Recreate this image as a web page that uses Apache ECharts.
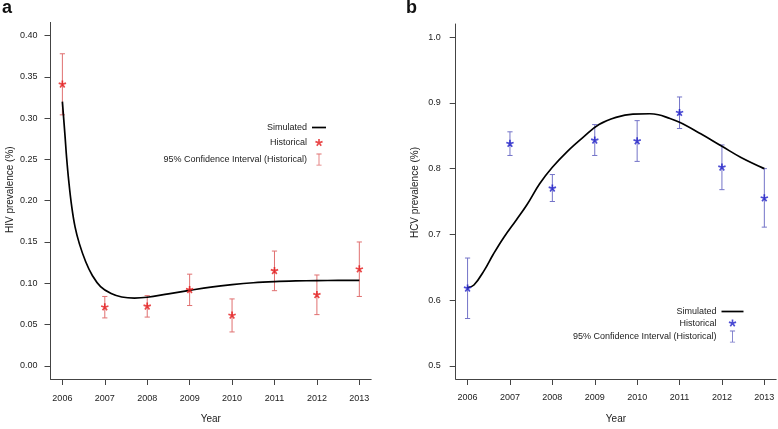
<!DOCTYPE html>
<html><head><meta charset="utf-8">
<script src="https://cdn.jsdelivr.net/npm/echarts@6/dist/echarts.min.js"></script>
<style>html,body{margin:0;padding:0;background:#fff}#c{width:778px;height:429px}</style>
</head><body><div id="c"></div>
<script>
// ---- data ----
const years = [2006, 2007, 2008, 2009, 2010, 2011, 2012, 2013];
const xTickLabels = [2006, 2007, 2008, 2009, 2010, 2011, 2012, 2013];
const hivTicks = [0, 0.05, 0.10, 0.15, 0.20, 0.25, 0.30, 0.35, 0.40];
const hcvTicks = [0.5, 0.6, 0.7, 0.8, 0.9, 1.0];

const hivHist = [0.341, 0.071, 0.072, 0.092, 0.061, 0.115, 0.086, 0.117];
const hivLow  = [0.304, 0.058, 0.059, 0.073, 0.041, 0.091, 0.062, 0.084];
const hivHigh = [0.378, 0.084, 0.085, 0.111, 0.081, 0.139, 0.110, 0.150];

const hivSimYears = [2006.00, 2006.06, 2006.10, 2006.15, 2006.22, 2006.30, 2006.40, 2006.55, 2006.70, 2006.90, 2007.15, 2007.40, 2007.70, 2008.00, 2008.50, 2009.00, 2009.50, 2010.00, 2010.50, 2011.00, 2011.50, 2012.00, 2012.50, 2013.00];
const hivSimVals  = [0.320, 0.280, 0.252, 0.224, 0.193, 0.168, 0.148, 0.126, 0.110, 0.096, 0.0875, 0.0833, 0.0820, 0.0830, 0.0872, 0.0914, 0.0953, 0.0983, 0.1006, 0.1020, 0.1028, 0.1032, 0.1034, 0.1034];

const hcvHist = [0.618, 0.838, 0.770, 0.843, 0.842, 0.885, 0.802, 0.755];
const hcvLow  = [0.572, 0.820, 0.750, 0.820, 0.811, 0.861, 0.768, 0.711];
const hcvHigh = [0.664, 0.856, 0.791, 0.867, 0.873, 0.909, 0.836, 0.800];

const hcvSimYears = [2006.00, 2006.15, 2006.40, 2006.60, 2006.85, 2007.15, 2007.40, 2007.70, 2008.00, 2008.35, 2008.75, 2009.10, 2009.50, 2009.90, 2010.30, 2010.50, 2010.70, 2011.00, 2011.50, 2012.00, 2012.45, 2013.00];
const hcvSimVals  = [0.619, 0.623, 0.646, 0.669, 0.695, 0.722, 0.745, 0.777, 0.802, 0.826, 0.849, 0.867, 0.878, 0.883, 0.8835, 0.882, 0.878, 0.8705, 0.853, 0.834, 0.817, 0.800];

const legendNames = ['Simulated', 'Historical', '95% Confidence Interval (Historical)'];

// ---- styling helpers ----
const FONT = '"Liberation Sans", Arial, Helvetica, sans-serif';
const AXIS = '#444';
const TXT = '#222';
const RED = '#e41a1c', RED_CI = '#e07070';
const BLUE = '#1f1fc8', BLUE_CI = '#7474c8';

function asteriskPath(c) {
  const R = 10, w = 2.2;
  let d = '';
  for (let i = 0; i < 5; i++) {
    const a = (i * 72 - 90) * Math.PI / 180;
    const dx = Math.cos(a), dy = Math.sin(a), px = -dy, py = dx;
    const pts = [[px * w, py * w], [dx * R + px * w, dy * R + py * w], [dx * R - px * w, dy * R - py * w], [-px * w, -py * w]];
    d += 'M' + pts.map(p => (p[0] + c).toFixed(2) + ',' + (p[1] + c).toFixed(2)).join('L') + 'Z';
  }
  const e = 2 * c;
  d += 'M' + c + ',0L' + c + ',0ZM' + c + ',' + e + 'L' + c + ',' + e + 'ZM0,' + c + 'L0,' + c + 'ZM' + e + ',' + c + 'L' + e + ',' + c + 'Z';
  return 'path://' + d;
}
const STAR = asteriskPath(13);
const STAR_LEGEND = asteriskPath(16);
const IBEAM = 'path://M0,0H6V1H3.5V13H6V14H0V13H2.5V1H0Z';

function errorSeries(name, xi, lows, highs, color) {
  return {
    type: 'custom', name: name, xAxisIndex: xi, yAxisIndex: xi,
    data: years.map((y, i) => [y, lows[i], highs[i]]),
    encode: { x: 0, y: [1, 2] },
    itemStyle: { color: color },
    z: 2,
    renderItem: function (params, api) {
      const x = api.value(0);
      const lo = api.coord([x, api.value(1)]);
      const hi = api.coord([x, api.value(2)]);
      const hw = 2.6;
      const st = { stroke: color, lineWidth: 1, fill: null };
      return { type: 'group', children: [
        { type: 'line', shape: { x1: lo[0], y1: lo[1], x2: hi[0], y2: hi[1] }, style: st },
        { type: 'line', shape: { x1: lo[0] - hw, y1: lo[1], x2: lo[0] + hw, y2: lo[1] }, style: st },
        { type: 'line', shape: { x1: hi[0] - hw, y1: hi[1], x2: hi[0] + hw, y2: hi[1] }, style: st }
      ] };
    }
  };
}

function xAxis(gi, margin, gap) {
  return {
    gridIndex: gi, type: 'value', min: 2005.72, max: 2013.28,
    axisLine: { show: true, onZero: false, lineStyle: { color: AXIS, width: 1 } },
    axisTick: { show: true, customValues: xTickLabels, length: 6, lineStyle: { color: AXIS } },
    axisLabel: { customValues: xTickLabels, margin: margin, fontSize: 9, color: TXT, fontFamily: FONT, formatter: v => String(v) },
    splitLine: { show: false },
    name: 'Year', nameLocation: 'middle', nameGap: gap,
    nameTextStyle: { fontSize: 10, color: TXT, fontFamily: FONT }
  };
}
function yAxis(gi, min, max, ticks, dec, title, margin, gap, shift) {
  return {
    gridIndex: gi, type: 'value', min: min, max: max,
    axisLine: { show: true, onZero: false, lineStyle: { color: AXIS, width: 1 } },
    axisTick: { show: true, customValues: ticks, length: 6, lineStyle: { color: AXIS } },
    axisLabel: { customValues: ticks, margin: margin, fontSize: 9, color: TXT, fontFamily: FONT, formatter: v => v.toFixed(dec) },
    splitLine: { show: false },
    name: title, nameLocation: 'middle', nameGap: gap,
    nameTextStyle: { fontSize: 10, color: TXT, fontFamily: FONT, padding: [0, 0, 0, shift] }
  };
}
function legendData(prefix, lineW) {
  return [
    { name: prefix + legendNames[0], icon: 'path://M0,0H' + lineW + 'V1.7H0Z' },
    { name: prefix + legendNames[1], icon: STAR_LEGEND },
    { name: prefix + legendNames[2], icon: IBEAM }
  ];
}

const chart = echarts.init(document.getElementById('c'), null, { renderer: 'canvas' });
chart.setOption({
  animation: false,
  backgroundColor: '#fff',
  title: [
    { text: 'a', left: 2, top: -1, padding: 0, textStyle: { fontSize: 18, fontWeight: 'bold', color: '#111', fontFamily: FONT } },
    { text: 'b', left: 406, top: -1, padding: 0, textStyle: { fontSize: 18, fontWeight: 'bold', color: '#111', fontFamily: FONT } }
  ],
  grid: [
    { left: 50.5, top: 22.4, width: 320.7, height: 358.6 },
    { left: 455.7, top: 24, width: 320.5, height: 358.5 }
  ],
  xAxis: [xAxis(0, 15, 35), xAxis(1, 14, 35)],
  yAxis: [
    yAxis(0, -0.016, 0.416, hivTicks, 2, 'HIV prevalence (%)', 13, 35, 22),
    yAxis(1, 0.48, 1.02, hcvTicks, 1, 'HCV prevalence (%)', 15, 35, 18)
  ],
  legend: [
    {
      orient: 'vertical', align: 'right', right: 452, top: 123, padding: 0,
      itemWidth: 14, itemHeight: 12, itemGap: 4.8, symbolKeepAspect: true,
      data: legendData('HIV: ', 14),
      formatter: name => name.slice(5),
      textStyle: { fontSize: 9, color: TXT, fontFamily: FONT },
      selectedMode: false
    },
    {
      orient: 'vertical', align: 'right', right: 34.5, top: 307, padding: 0,
      itemWidth: 22, itemHeight: 12, itemGap: 1.3, symbolKeepAspect: true,
      data: legendData('HCV: ', 22),
      formatter: name => name.slice(5),
      textStyle: { fontSize: 9, color: TXT, fontFamily: FONT },
      selectedMode: false
    }
  ],
  series: [
    {
      type: 'line', name: 'HIV: Simulated', xAxisIndex: 0, yAxisIndex: 0,
      data: hivSimYears.map((y, i) => [y, hivSimVals[i]]),
      showSymbol: false, symbol: 'none', smooth: 0.4,
      lineStyle: { color: '#000', width: 1.7 }, itemStyle: { color: '#000' }, z: 3
    },
    errorSeries('HIV: 95% Confidence Interval (Historical)', 0, hivLow, hivHigh, RED_CI),
    {
      type: 'scatter', name: 'HIV: Historical', xAxisIndex: 0, yAxisIndex: 0,
      data: years.map((y, i) => [y, hivHist[i]]),
      symbol: STAR, symbolSize: 10, symbolKeepAspect: true,
      itemStyle: { color: RED }, z: 4
    },
    {
      type: 'line', name: 'HCV: Simulated', xAxisIndex: 1, yAxisIndex: 1,
      data: hcvSimYears.map((y, i) => [y, hcvSimVals[i]]),
      showSymbol: false, symbol: 'none', smooth: 0.4,
      lineStyle: { color: '#000', width: 1.7 }, itemStyle: { color: '#000' }, z: 3
    },
    errorSeries('HCV: 95% Confidence Interval (Historical)', 1, hcvLow, hcvHigh, BLUE_CI),
    {
      type: 'scatter', name: 'HCV: Historical', xAxisIndex: 1, yAxisIndex: 1,
      data: years.map((y, i) => [y, hcvHist[i]]),
      symbol: STAR, symbolSize: 10, symbolKeepAspect: true,
      itemStyle: { color: BLUE }, z: 4
    }
  ]
});
</script>
</body></html>
